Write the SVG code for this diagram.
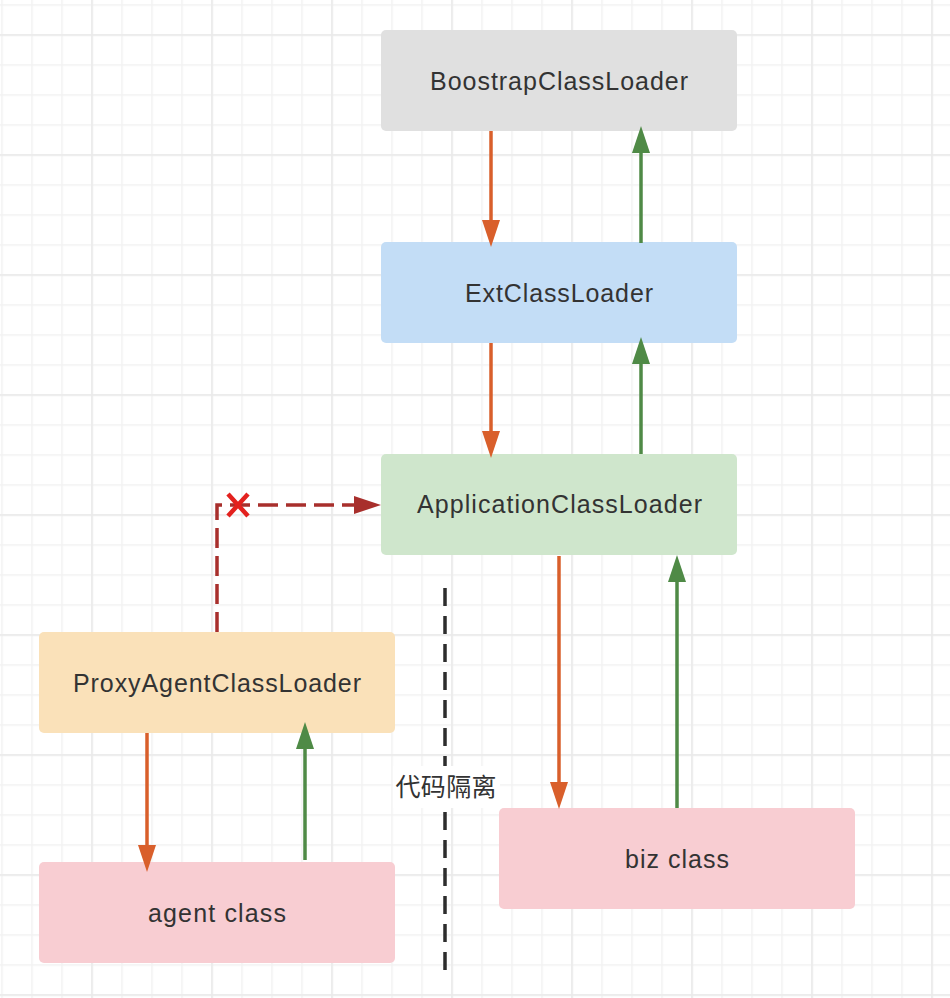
<svg xmlns="http://www.w3.org/2000/svg" width="950" height="998" viewBox="0 0 950 998">
  <style>
    .node-text { font-family: "Liberation Sans", Arial, sans-serif; font-size: 25px; fill: #333333; text-anchor: middle; }
    .label-text { font-family: "Noto Sans CJK SC", sans-serif; font-size: 25px; fill: #333333; text-anchor: middle; }
    .orange { stroke: #d95f2b; stroke-width: 3.5; fill: none; }
    .green { stroke: #4f8a46; stroke-width: 3.5; fill: none; }
    .red-dash { stroke: #a82f2c; stroke-width: 3.5; fill: none; stroke-dasharray: 20 8; }
    .divider { stroke: #2d2d2d; stroke-width: 3.5; fill: none; stroke-dasharray: 18 10; }
  </style>
  <defs>
    <pattern id="gridMinor" patternUnits="userSpaceOnUse" x="1.25" y="4.25" width="30" height="30">
      <rect x="0" y="0" width="1.5" height="30" fill="#f2f2f2"/>
      <rect x="0" y="0" width="30" height="1.5" fill="#f2f2f2"/>
    </pattern>
    <pattern id="gridMajor" patternUnits="userSpaceOnUse" x="91.25" y="34.25" width="120" height="120">
      <rect x="0" y="0" width="1.5" height="120" fill="#e9e9e9"/>
      <rect x="0" y="0" width="120" height="1.5" fill="#e9e9e9"/>
    </pattern>
    <marker id="headOrange" markerUnits="userSpaceOnUse" markerWidth="28" markerHeight="18" refX="0" refY="9" orient="auto">
      <path d="M0,0 L27,9 L0,18 Z" fill="#d95f2b"/>
    </marker>
    <marker id="headGreen" markerUnits="userSpaceOnUse" markerWidth="28" markerHeight="18" refX="0" refY="9" orient="auto">
      <path d="M0,0 L27,9 L0,18 Z" fill="#4f8a46"/>
    </marker>
    <marker id="headRed" markerUnits="userSpaceOnUse" markerWidth="28" markerHeight="18" refX="0" refY="9" orient="auto">
      <path d="M0,0 L27,9 L0,18 Z" fill="#a82f2c"/>
    </marker>
  </defs>

  <rect x="0" y="0" width="950" height="998" fill="#ffffff"/>
  <rect x="0" y="0" width="950" height="998" fill="url(#gridMinor)"/>
  <rect x="0" y="0" width="950" height="998" fill="url(#gridMajor)"/>

  <g id="node-bootstrap">
    <rect x="381" y="30" width="356" height="101" rx="5" fill="#e0e0e0"/>
    <text class="node-text" x="559" y="90" textLength="258" lengthAdjust="spacing">BoostrapClassLoader</text>
  </g>
  <g id="node-ext">
    <rect x="381" y="242" width="356" height="101" rx="5" fill="#c3ddf6"/>
    <text class="node-text" x="559" y="302" textLength="188" lengthAdjust="spacing">ExtClassLoader</text>
  </g>
  <g id="node-app">
    <rect x="381" y="454" width="356" height="101" rx="5" fill="#cfe6cc"/>
    <text class="node-text" x="559.5" y="513" textLength="285" lengthAdjust="spacing">ApplicationClassLoader</text>
  </g>
  <g id="node-proxy">
    <rect x="39" y="632" width="356" height="101" rx="5" fill="#fae1b9"/>
    <text class="node-text" x="217" y="692" textLength="288" lengthAdjust="spacing">ProxyAgentClassLoader</text>
  </g>
  <g id="node-agent">
    <rect x="39" y="862" width="356" height="101" rx="5" fill="#f8cdd2"/>
    <text class="node-text" x="217" y="922" textLength="138" lengthAdjust="spacing">agent class</text>
  </g>
  <g id="node-biz">
    <rect x="499" y="808" width="356" height="101" rx="5" fill="#f8cdd2"/>
    <text class="node-text" x="677" y="868" textLength="104" lengthAdjust="spacing">biz class</text>
  </g>

  <g id="connectors">
    <path class="orange" d="M491,131 V220" marker-end="url(#headOrange)"/>
    <path class="green" d="M641,243 V153" marker-end="url(#headGreen)"/>
    <path class="orange" d="M491,343 V431" marker-end="url(#headOrange)"/>
    <path class="green" d="M641,454 V364" marker-end="url(#headGreen)"/>
    <path class="orange" d="M559,556 V782" marker-end="url(#headOrange)"/>
    <path class="green" d="M677,808 V582" marker-end="url(#headGreen)"/>
    <path class="orange" d="M147,733 V845" marker-end="url(#headOrange)"/>
    <path class="green" d="M305,860 V749" marker-end="url(#headGreen)"/>
    <path class="red-dash" d="M217,632 V505 H354" marker-end="url(#headRed)"/>
    <path d="M228,494 L248,516 M248,494 L228,516" stroke="#e3211e" stroke-width="4.5" fill="none"/>
  </g>

  <g id="divider">
    <path class="divider" d="M445,588 V972"/>
    <rect x="393" y="766" width="107" height="42" fill="#ffffff"/>
    <text class="label-text" x="446" y="796" textLength="101" lengthAdjust="spacing">代码隔离</text>
  </g>
</svg>
